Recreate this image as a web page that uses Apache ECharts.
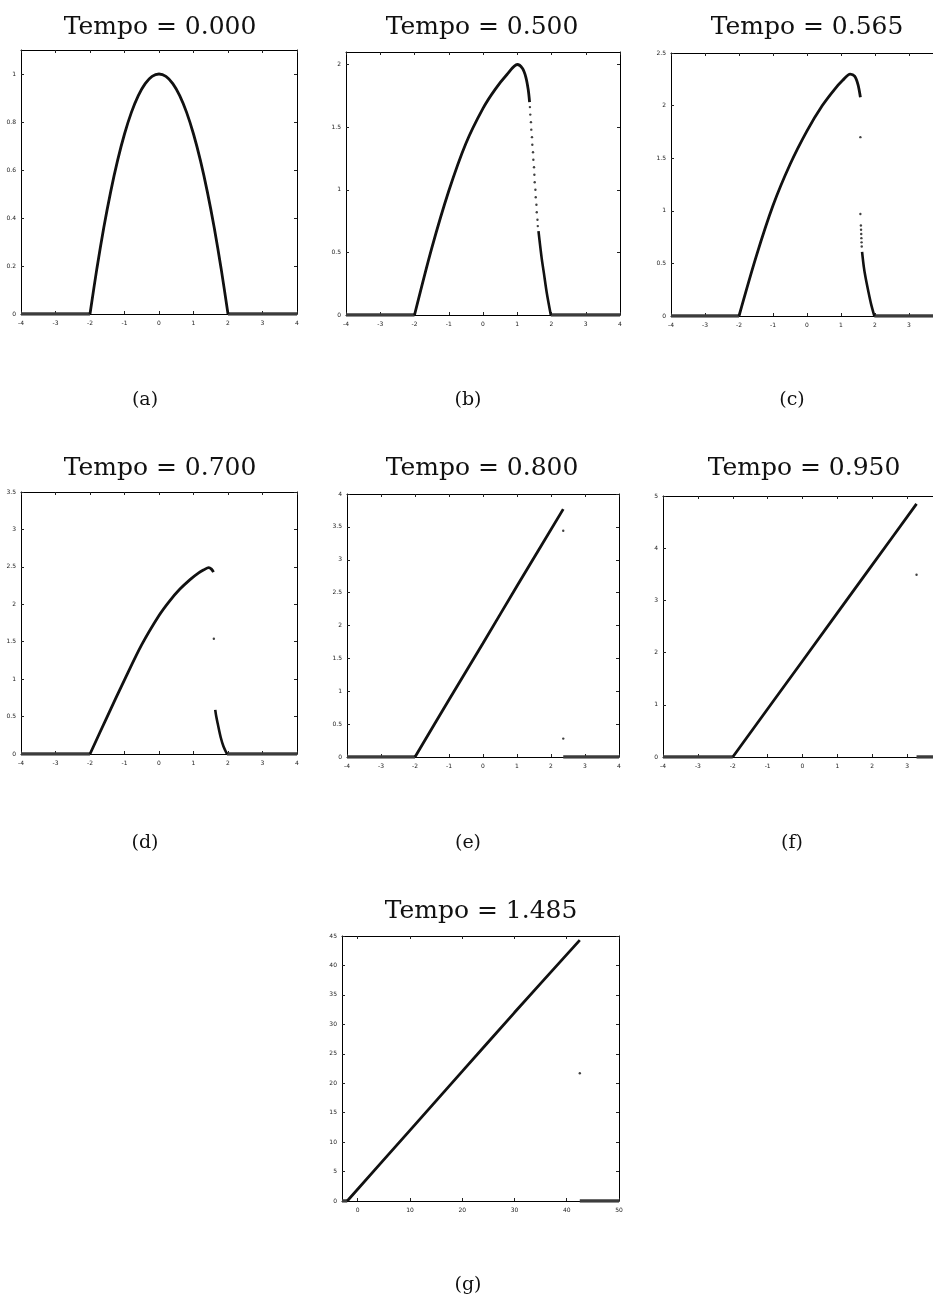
<!DOCTYPE html>
<html>
<head>
<meta charset="utf-8">
<script src="https://cdn.jsdelivr.net/npm/echarts@6/dist/echarts.min.js"></script>
<style>
html,body{margin:0;padding:0;background:#fff;}
#chart{width:933px;height:1299px;}
</style>
</head>
<body>
<div id="chart"></div>
<script>
// ---------------- DATA ----------------
const titles = ['Tempo = 0.000','Tempo = 0.500','Tempo = 0.565','Tempo = 0.700','Tempo = 0.800','Tempo = 0.950','Tempo = 1.485'];
const subLabels = ['(a)','(b)','(c)','(d)','(e)','(f)','(g)'];

const xTicksSmall = [-4,-3,-2,-1,0,1,2,3,4];
const xTicksG = [0,10,20,30,40,50];
const yTicksA = [0,0.2,0.4,0.6,0.8,1];
const yTicksB = [0,0.5,1,1.5,2];
const yTicksC = [0,0.5,1,1.5,2,2.5];
const yTicksD = [0,0.5,1,1.5,2,2.5,3,3.5];
const yTicksE = [0,0.5,1,1.5,2,2.5,3,3.5,4];
const yTicksF = [0,1,2,3,4,5];
const yTicksG = [0,5,10,15,20,25,30,35,40,45];

const xRanges = [[-4,4],[-4,4],[-4,4],[-4,4],[-4,4],[-4,4],[-3,50]];
const yRanges = [[0,1.1],[0,2.1],[0,2.5],[0,3.5],[0,4],[0,5],[0,45]];

// (a) t = 0.000
const curveA = [[-2,0],[-1.8,0.19],[-1.6,0.36],[-1.4,0.51],[-1.2,0.64],[-1,0.75],[-0.8,0.84],[-0.6,0.91],[-0.4,0.96],[-0.2,0.99],[0,1],[0.2,0.99],[0.4,0.96],[0.6,0.91],[0.8,0.84],[1,0.75],[1.2,0.64],[1.4,0.51],[1.6,0.36],[1.8,0.19],[2,0]];
const tailA = [];
const dotsA = [];
const zeroA = [[[-4,0],[-2,0]],[[2,0],[4,0]]];

// (b) t = 0.500
const curveB = [[-2,0],[-1.5,0.53],[-1.0,0.99],[-0.5,1.37],[0,1.65],[0.35,1.8],[0.7,1.92],[1.0,2.0],[1.15,1.97],[1.25,1.9],[1.32,1.8],[1.36,1.7]];
const dotsB = [[1.37,1.66],[1.38,1.6],[1.4,1.54],[1.41,1.48],[1.43,1.42],[1.44,1.36],[1.46,1.3],[1.47,1.24],[1.49,1.18],[1.5,1.12],[1.51,1.06],[1.53,1.0],[1.54,0.94],[1.56,0.88],[1.57,0.82],[1.59,0.76],[1.6,0.71]];
const tailB = [[1.62,0.67],[1.67,0.55],[1.72,0.44],[1.78,0.33],[1.86,0.18],[1.98,0]];
const zeroB = [[[-4,0],[-2,0]],[[1.98,0],[4,0]]];

// (c) t = 0.565
const curveC = [[-2,0],[-1.5,0.56],[-1.0,1.05],[-0.5,1.44],[0,1.76],[0.45,2.0],[0.8,2.15],[1.05,2.24],[1.27,2.3],[1.4,2.28],[1.5,2.2],[1.57,2.08]];
const dotsC = [[1.57,1.7],[1.57,0.97],[1.585,0.86],[1.59,0.82],[1.595,0.78],[1.6,0.74],[1.605,0.7],[1.61,0.66]];
const tailC = [[1.62,0.61],[1.67,0.47],[1.72,0.37],[1.8,0.24],[1.88,0.12],[1.98,0]];
const zeroC = [[[-4,0],[-2,0]],[[1.98,0],[4,0]]];

// (d) t = 0.700
const curveD = [[-2,0],[-1.5,0.5],[-1.0,0.99],[-0.5,1.46],[0,1.85],[0.3,2.04],[0.6,2.2],[0.9,2.33],[1.15,2.42],[1.3,2.46],[1.44,2.49],[1.52,2.47],[1.58,2.43]];
const dotsD = [[1.59,1.54]];
const tailD = [[1.63,0.59],[1.66,0.5],[1.7,0.41],[1.79,0.22],[1.87,0.1],[1.97,0]];
const zeroD = [[[-4,0],[-2,0]],[[1.97,0],[4,0]]];

// (e) t = 0.800
const curveE = [[-2,0],[-1,0.87],[0,1.73],[1,2.6],[2.36,3.77]];
const dotsE = [[2.36,3.44],[2.36,0.28]];
const tailE = [];
const zeroE = [[[-4,0],[-2,0]],[[2.36,0],[4,0]]];

// (f) t = 0.950
const curveF = [[-2,0],[0,1.84],[2,3.68],[3.27,4.85]];
const dotsF = [[3.27,3.49]];
const tailF = [];
const zeroF = [[[-4,0],[-2,0]],[[3.27,0],[4,0]]];

// (g) t = 1.485
const curveG = [[-2,0],[10,12],[20,22],[30,32],[42.5,44.3]];
const dotsG = [[42.5,21.7]];
const tailG = [];
const zeroG = [[[-3,0],[-2,0]],[[42.5,0],[50,0]]];

// ---------------- LAYOUT ----------------
const grids = [
  {left:21, top:50, width:276, height:264},
  {left:346, top:52, width:274, height:263},
  {left:671, top:53, width:272, height:263},
  {left:21, top:492, width:276, height:262},
  {left:347, top:494, width:272, height:263},
  {left:663, top:496, width:279, height:261},
  {left:342, top:936, width:277, height:265}
];
const titlePos = [[160,27],[482,27],[807,27],[160,468],[482,468],[804,468],[481,911]];
const subPos = [[145,400],[468,400],[792,400],[145,843],[468,843],[792,843],[468,1285]];

const panels = [
  {curve:curveA, tail:tailA, dots:dotsA, zero:zeroA, xt:xTicksSmall, yt:yTicksA},
  {curve:curveB, tail:tailB, dots:dotsB, zero:zeroB, xt:xTicksSmall, yt:yTicksB},
  {curve:curveC, tail:tailC, dots:dotsC, zero:zeroC, xt:xTicksSmall, yt:yTicksC},
  {curve:curveD, tail:tailD, dots:dotsD, zero:zeroD, xt:xTicksSmall, yt:yTicksD},
  {curve:curveE, tail:tailE, dots:dotsE, zero:zeroE, xt:xTicksSmall, yt:yTicksE},
  {curve:curveF, tail:tailF, dots:dotsF, zero:zeroF, xt:xTicksSmall, yt:yTicksF},
  {curve:curveG, tail:tailG, dots:dotsG, zero:zeroG, xt:xTicksG, yt:yTicksG}
];

const xAxes = [], yAxes = [], series = [], graphics = [];
const lineCol = '#000';

function axisCfg(type, gi, range, ticks, pos, showLabel){
  return {
    type:'value', gridIndex:gi, min:range[0], max:range[1], position:pos,
    axisLine:{show:true, onZero:false, lineStyle:{color:lineCol, width:1}},
    axisTick:{show:true, inside:true, length:3, customValues:ticks, lineStyle:{color:'#222', width:1}},
    axisLabel:{show:showLabel, customValues:ticks, fontSize:6, color:'#222', margin:type==='x'?6:5, fontFamily:'DejaVu Sans'},
    splitLine:{show:false}
  };
}

panels.forEach((p, i) => {
  xAxes.push(axisCfg('x', i, xRanges[i], p.xt, 'bottom', true));
  xAxes.push(axisCfg('x', i, xRanges[i], p.xt, 'top', false));
  yAxes.push(axisCfg('y', i, yRanges[i], p.yt, 'left', true));
  yAxes.push(axisCfg('y', i, yRanges[i], p.yt, 'right', false));
  const xi = 2*i, yi = 2*i;
  p.zero.forEach(seg => {
    series.push({type:'line', xAxisIndex:xi, yAxisIndex:yi, data:seg, symbol:'none',
      lineStyle:{color:'#3c3c3c', width:3.5}, silent:true, z:2});
  });
  series.push({type:'line', xAxisIndex:xi, yAxisIndex:yi, data:p.curve, symbol:'none', smooth:0.3,
    lineStyle:{color:'#111', width:2.8}, silent:true, z:3});
  if (p.tail.length) series.push({type:'line', xAxisIndex:xi, yAxisIndex:yi, data:p.tail, symbol:'none', smooth:0.3,
    lineStyle:{color:'#111', width:2.6}, silent:true, z:3});
  if (p.dots.length) series.push({type:'scatter', xAxisIndex:xi, yAxisIndex:yi, data:p.dots, symbol:'circle', symbolSize:2.4,
    itemStyle:{color:'#111'}, silent:true, z:3});
  graphics.push({type:'text', x:titlePos[i][0], y:titlePos[i][1],
    style:{text:titles[i], textAlign:'center', textVerticalAlign:'middle', font:'25px "DejaVu Serif"', fill:'#111'}});
  graphics.push({type:'text', x:subPos[i][0], y:subPos[i][1],
    style:{text:subLabels[i], textAlign:'center', textVerticalAlign:'middle', font:'19px "DejaVu Serif"', fill:'#111'}});
});

const chart = echarts.init(document.getElementById('chart'), null, {renderer:'canvas'});
chart.setOption({
  animation:false,
  backgroundColor:'#fff',
  grid:grids.map(g => Object.assign({containLabel:false, outerBoundsMode:'none'}, g)),
  xAxis:xAxes,
  yAxis:yAxes,
  series:series,
  graphic:graphics
});
</script>
</body>
</html>
